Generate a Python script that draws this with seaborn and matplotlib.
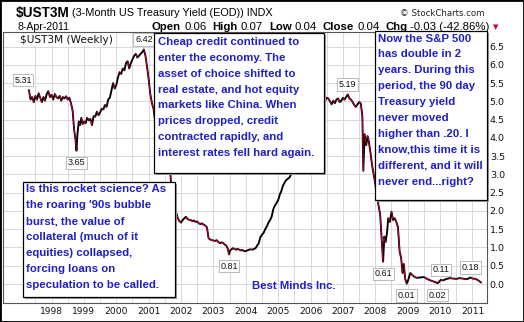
import numpy as np
import pandas as pd
import matplotlib
matplotlib.use("Agg")
import matplotlib.pyplot as plt
import seaborn as sns
from matplotlib.patches import Rectangle

# ---- data -------------------------------------------------------------
# weekly 3-month treasury yield (decimal year, percent)
week = [
    1997.30, 1997.35, 1997.40, 1997.45, 1997.50, 1997.55, 1997.60, 1997.65, 1997.70, 1997.75,
    1997.80, 1997.85, 1997.90, 1997.95, 1998.00, 1998.05, 1998.10, 1998.15, 1998.20, 1998.25,
    1998.30, 1998.35, 1998.40, 1998.45, 1998.50, 1998.55, 1998.60, 1998.65, 1998.70, 1998.74,
    1998.77, 1998.80, 1998.84, 1998.88, 1998.92, 1998.96, 1999.00, 1999.05, 1999.10, 1999.15,
    1999.20, 1999.25, 1999.30, 1999.35, 1999.40, 1999.45, 1999.50, 1999.55, 1999.60, 1999.65,
    1999.70, 1999.75, 1999.80, 1999.85, 1999.90, 1999.95, 2000.00, 2000.05, 2000.10, 2000.15,
    2000.20, 2000.25, 2000.30, 2000.35, 2000.40, 2000.45, 2000.50, 2000.55, 2000.60, 2000.65,
    2000.70, 2000.75, 2000.80, 2000.85, 2000.90, 2000.95, 2001.00, 2001.05, 2001.10, 2001.15,
    2001.20, 2001.25, 2001.30, 2001.35, 2001.40, 2001.45, 2001.50, 2001.55, 2001.60, 2001.65,
    2001.70, 2001.75, 2001.80, 2001.85, 2001.90, 2001.95, 2002.00, 2002.05, 2002.10, 2002.15,
    2002.20, 2002.25, 2002.30, 2002.35, 2002.40, 2002.45, 2002.50, 2002.55, 2002.60, 2002.65,
    2002.70, 2002.75, 2002.80, 2002.85, 2002.90, 2002.95, 2003.00, 2003.05, 2003.10, 2003.15,
    2003.20, 2003.25, 2003.30, 2003.35, 2003.40, 2003.45, 2003.48, 2003.52, 2003.56, 2003.60,
    2003.65, 2003.70, 2003.75, 2003.80, 2003.85, 2003.90, 2003.95, 2004.00, 2004.05, 2004.10,
    2004.15, 2004.20, 2004.25, 2004.30, 2004.35, 2004.40, 2004.45, 2004.50, 2004.55, 2004.60,
    2004.65, 2004.70, 2004.75, 2004.80, 2004.85, 2004.90, 2004.95, 2005.00, 2005.05, 2005.10,
    2005.15, 2005.20, 2005.25, 2005.30, 2005.35, 2005.40, 2005.45, 2005.50, 2005.55, 2005.60,
    2005.65, 2005.70, 2005.75, 2005.80, 2005.85, 2005.90, 2005.95, 2006.00, 2006.05, 2006.10,
    2006.15, 2006.20, 2006.25, 2006.30, 2006.35, 2006.40, 2006.45, 2006.50, 2006.55, 2006.60,
    2006.65, 2006.70, 2006.75, 2006.80, 2006.85, 2006.90, 2006.95, 2007.00, 2007.05, 2007.10,
    2007.15, 2007.20, 2007.25, 2007.30, 2007.35, 2007.40, 2007.45, 2007.50, 2007.55, 2007.60,
    2007.63, 2007.67, 2007.72, 2007.76, 2007.80, 2007.85, 2007.90, 2007.95, 2008.00, 2008.05,
    2008.10, 2008.15, 2008.20, 2008.24, 2008.28, 2008.32, 2008.36, 2008.40, 2008.45, 2008.50,
    2008.55, 2008.60, 2008.65, 2008.70, 2008.75, 2008.80, 2008.84, 2008.88, 2008.92, 2008.97,
    2009.02, 2009.08, 2009.14, 2009.20, 2009.25, 2009.30, 2009.40, 2009.50, 2009.60, 2009.70,
    2009.80, 2009.86, 2009.92, 2009.97, 2010.02, 2010.10, 2010.20, 2010.30, 2010.40, 2010.50,
    2010.60, 2010.70, 2010.80, 2010.88, 2010.94, 2011.00, 2011.10, 2011.18, 2011.27,
]
yld = [
    5.31, 5.05, 5.12, 4.98, 5.15, 5.05, 5.22, 5.10, 4.98, 5.12,
    5.02, 5.20, 5.28, 5.12, 5.18, 5.05, 5.20, 5.12, 5.08, 5.15,
    5.02, 5.12, 5.08, 5.14, 5.05, 5.10, 4.95, 4.75, 4.20, 3.95,
    3.65, 4.10, 4.45, 4.35, 4.55, 4.38, 4.45, 4.40, 4.55, 4.48,
    4.52, 4.35, 4.60, 4.58, 4.72, 4.62, 4.70, 4.80, 4.78, 4.90,
    4.85, 5.05, 5.10, 5.30, 5.50, 5.35, 5.45, 5.65, 5.80, 5.75,
    5.90, 5.85, 6.05, 6.10, 5.90, 6.05, 6.15, 6.25, 6.30, 6.20,
    6.25, 6.30, 6.35, 6.42, 6.25, 5.95, 5.60, 5.20, 4.95, 4.80,
    4.45, 4.15, 3.90, 3.70, 3.62, 3.55, 3.60, 3.50, 3.40, 3.30,
    2.60, 2.30, 2.10, 1.95, 1.80, 1.72, 1.68, 1.75, 1.80, 1.84,
    1.78, 1.76, 1.75, 1.72, 1.74, 1.70, 1.71, 1.66, 1.64, 1.66,
    1.62, 1.60, 1.55, 1.25, 1.22, 1.20, 1.19, 1.18, 1.20, 1.15,
    1.12, 1.14, 1.12, 1.08, 1.05, 0.95, 0.81, 0.92, 0.95, 0.98,
    0.96, 0.94, 0.96, 0.94, 0.92, 0.93, 0.90, 0.90, 0.92, 0.94,
    0.95, 0.94, 0.96, 0.98, 1.05, 1.12, 1.28, 1.35, 1.40, 1.50,
    1.58, 1.68, 1.75, 1.85, 2.05, 2.15, 2.22, 2.30, 2.45, 2.55,
    2.70, 2.78, 2.85, 2.88, 2.92, 3.00, 3.08, 3.25, 3.40, 3.50,
    3.48, 3.60, 3.80, 3.92, 3.95, 4.00, 4.10, 4.30, 4.45, 4.55,
    4.62, 4.70, 4.75, 4.85, 4.90, 4.95, 5.02, 5.10, 5.08, 5.00,
    4.92, 5.02, 4.95, 5.05, 5.08, 4.98, 5.02, 5.10, 5.05, 5.12,
    5.19, 5.08, 5.05, 4.98, 4.90, 4.85, 4.92, 4.98, 4.95, 4.60,
    3.10, 4.10, 3.80, 4.05, 3.90, 3.60, 3.25, 3.00, 2.75, 2.40,
    2.15, 1.90, 1.20, 0.61, 1.30, 1.15, 1.40, 1.80, 1.70, 1.98,
    1.75, 1.80, 1.70, 1.55, 0.90, 0.70, 0.30, 0.55, 0.15, 0.01,
    0.12, 0.30, 0.25, 0.20, 0.18, 0.17, 0.18, 0.19, 0.14, 0.10,
    0.07, 0.05, 0.02, 0.06, 0.11, 0.10, 0.14, 0.16, 0.15, 0.14,
    0.16, 0.15, 0.13, 0.15, 0.18, 0.15, 0.14, 0.10, 0.04,
]

# annotated highs (+1) and lows (-1)
mark_dates = [1997.30, 2000.85, 1998.77, 2003.48, 2007.15, 2008.24, 2008.97, 2009.92, 2010.02, 2010.94]
mark_side = [1, 1, -1, -1, 1, -1, -1, -1, 1, 1]

years = list(range(1998, 2012))
y_ticks = [0.0, 0.5, 1.0, 1.5, 2.0, 2.5, 3.0, 3.5, 4.0, 4.5, 5.0, 5.5, 6.0, 6.5]

quote_fields = ["Open", "High", "Low", "Close"]
quote_vals = [0.06, 0.07, 0.04, 0.04]
chg_val, chg_pct = -0.03, -42.86

note_credit = [
    "Cheap credit continued to",
    "enter the economy. The",
    "asset of choice shifted to",
    "real estate, and hot equity",
    "markets like China. When",
    "prices dropped, credit",
    "contracted rapidly, and",
    "interest rates fell hard again.",
]
note_sp500 = [
    "Now the S&P 500",
    "has double in 2",
    "years. During this",
    "period, the 90 day",
    "Treasury yield",
    "never moved",
    "higher than .20. I",
    "know,this time it is",
    "different, and it will",
    "never end...right?",
]
note_rocket = [
    "Is this rocket science? As",
    "the roaring '90s bubble",
    "burst, the value of",
    "collateral (much of it",
    "equities) collapsed,",
    "forcing loans on",
    "speculation to be called.",
]

# ---- figure -----------------------------------------------------------
sns.set_theme(style="white")
plt.rcParams["font.family"] = ["DejaVu Sans"]

W, H = 524, 322


def fx(x):
    return x / W


def fy(y):
    return 1 - y / H


fig = plt.figure(figsize=(W / 100, H / 100), dpi=100, facecolor="white")
ax = fig.add_axes([fx(3), fy(303), (487 - 3) / W, (303 - 32) / H])
ax.set_facecolor("white")

df = pd.DataFrame({"date": week, "yield": yld})
sns.lineplot(data=df, x="date", y="yield", color="black", lw=1.35,
             estimator=None, sort=False, ax=ax)

# falling weeks traced in thin red on top of the black trace
w = np.asarray(week)
v = np.asarray(yld)
down = np.where(np.diff(v) < 0)[0]
seg = pd.DataFrame({
    "date": np.r_[w[down], w[down + 1]],
    "yield": np.r_[v[down], v[down + 1]],
    "seg": np.r_[down, down],
})
sns.lineplot(data=seg, x="date", y="yield", units="seg", estimator=None,
             color="#c4002b", lw=0.65, ax=ax)

ax.set_xlim(1996.79, 2011.45)
ax.set_ylim(-0.52, 6.90)
ax.set_xticks(years)
ax.set_xticklabels([str(y) for y in years])
ax.set_xticks([y + 0.5 for y in range(1996, 2011)], minor=True)
ax.set_yticks(y_ticks)
ax.set_yticklabels([f"{t:.1f}" for t in y_ticks])
ax.yaxis.tick_right()
ax.tick_params(axis="y", length=0, pad=2, labelsize=6.8, colors="#111111")
ax.tick_params(axis="x", length=0, pad=3, labelsize=6.6, colors="#111111")
ax.tick_params(which="minor", length=0)
ax.grid(which="both", color="#d3d3d3", lw=0.6)
ax.set_xlabel("")
ax.set_ylabel("")
for s in ax.spines.values():
    s.set_color("#555555")
    s.set_linewidth(0.8)

# value labels at the marked highs and lows
for d, side in zip(mark_dates, mark_side):
    i = int(np.argmin(np.abs(w - d)))
    dx = -4.3 if i == 0 else 0
    dy = 7.2 if side > 0 else -8.6
    ax.annotate(f"{v[i]:.2f}", (w[i], v[i]), xytext=(dx, dy), textcoords="offset points",
                ha="center", va="center", fontsize=6.5, family="Liberation Sans",
                color="#111111", zorder=4,
                bbox=dict(boxstyle="square,pad=0.18", fc="white", ec="#b0b0b0", lw=0.6))

fig.text(fx(20), fy(40), "$UST3M (Weekly)", fontsize=7.6, color="#111111",
         ha="left", va="center", zorder=3,
         bbox=dict(boxstyle="square,pad=0.1", fc="white", ec="none"))

# ---- header -----------------------------------------------------------
fig.text(fx(16), fy(13), "$UST3M", fontsize=9.8, weight="bold", family="Liberation Sans",
         ha="left", va="center", color="black")
fig.text(fx(72), fy(13.5), "(3-Month US Treasury Yield (EOD)) INDX", fontsize=7.8,
         family="Liberation Sans", ha="left", va="center", color="black")
fig.text(fx(484), fy(13), "\u00a9 StockCharts.com", fontsize=6.2, ha="right", va="center",
         color="#222222")
fig.text(fx(17), fy(27), "8-Apr-2011", fontsize=7.6, family="Liberation Sans",
         ha="left", va="center", color="black")

renderer = fig.canvas.get_renderer()
pieces = []
for name, val in zip(quote_fields, quote_vals):
    pieces.append((name, True))
    pieces.append((f"{val:.2f}", False))
pieces.append(("Chg", True))
pieces.append((f"{chg_val:.2f} ({chg_pct:.2f}%)", False))
xpos = 152
for k, (s, bold) in enumerate(pieces):
    t = fig.text(fx(xpos), fy(27), s, fontsize=8.2, family="Liberation Sans",
                 weight="bold" if bold else "normal", ha="left", va="center", color="black")
    xpos += t.get_window_extent(renderer).width + (3.0 if bold else 6.0)
fig.text(fx(xpos - 3), fy(27.5), "\u25bc", fontsize=5, color="#cc0033", ha="left", va="center")

# ---- callout boxes ----------------------------------------------------
BLUE = "#1f1fc8"


def callout(x0, y0, x1, y1, lines, tx, ty0, dy):
    fig.add_artist(Rectangle((fx(x0 + 2), fy(y1 + 2)), (x1 - x0) / W, (y1 - y0) / H,
                             transform=fig.transFigure, fc="#a0a0a0", ec="none", zorder=5))
    fig.add_artist(Rectangle((fx(x0), fy(y1)), (x1 - x0) / W, (y1 - y0) / H,
                             transform=fig.transFigure, fc="white", ec="black", lw=0.9, zorder=6))
    for i, line in enumerate(lines):
        fig.text(fx(tx), fy(ty0 + i * dy), line, fontsize=8.2, weight="bold",
                 family="Liberation Sans", color=BLUE, ha="left", va="center", zorder=7)


callout(154, 33, 324, 173, note_credit, 158, 42, 15.85)
callout(375, 31, 487, 200, note_sp500, 378, 38.5, 15.9)
callout(23, 182, 175, 297, note_rocket, 26, 189, 16.0)

fig.text(fx(252), fy(286), "Best Minds Inc.", fontsize=8.2, weight="bold",
         family="Liberation Sans", color=BLUE, ha="left", va="center", zorder=7)

# outer frame of the image
fig.add_artist(Rectangle((0, 0), 1, 1, transform=fig.transFigure, fc="none",
                         ec="black", lw=2.0, zorder=10))

fig.savefig("out.png", dpi=100, facecolor="white")
